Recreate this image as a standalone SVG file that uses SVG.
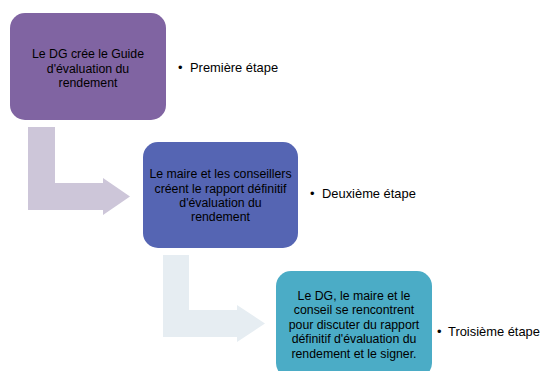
<svg xmlns="http://www.w3.org/2000/svg" width="545" height="371" viewBox="0 0 545 371">
<style>
.t{font-family:"Liberation Sans",Arial,sans-serif;font-size:12.3px;fill:#000;text-anchor:middle}
.b{font-family:"Liberation Sans",Arial,sans-serif;font-size:12.9px;fill:#000}
</style>
<rect width="545" height="371" fill="#fff"/>
<g id="connectors">
<path d="M28,127 H55 V183 H103 V178 L130,196.5 L103,215 V210 H28 Z" fill="#CDC6D9"/>
<path d="M163,255 H189 V310 H237 V305 L265,323.5 L237,342 V337 H163 Z" fill="#E6EDF2"/>
</g>
<g id="step1">
<rect x="10" y="13" width="156" height="107" rx="15" fill="#8064A2"/>
<text class="t" x="88" y="58">Le DG crée le Guide</text>
<text class="t" x="88" y="72.5">d'évaluation du</text>
<text class="t" x="88" y="87">rendement</text>
</g>
<g id="label1"><text class="b" x="178" y="71.5">•<tspan x="190">Première étape</tspan></text></g>
<g id="step2">
<rect x="143" y="142" width="155" height="106" rx="15" fill="#5565B3"/>
<text class="t" x="220.5" y="178.3">Le maire et les conseillers</text>
<text class="t" x="220.5" y="192.7">créent le rapport définitif</text>
<text class="t" x="220.5" y="207">d'évaluation du</text>
<text class="t" x="220.5" y="221.3">rendement</text>
</g>
<g id="label2"><text class="b" x="310" y="198.3">•<tspan x="322">Deuxième étape</tspan></text></g>
<g id="step3">
<rect x="276" y="271" width="156" height="107" rx="15" fill="#4BACC6"/>
<text class="t" x="354" y="300">Le DG, le maire et le</text>
<text class="t" x="354" y="314.4">conseil se rencontrent</text>
<text class="t" x="354" y="328.8">pour discuter du rapport</text>
<text class="t" x="354" y="343.2">définitif d'évaluation du</text>
<text class="t" x="354" y="357.6">rendement et le signer.</text>
</g>
<g id="label3"><text class="b" x="437" y="336">•<tspan x="448">Troisième étape</tspan></text></g>
</svg>
